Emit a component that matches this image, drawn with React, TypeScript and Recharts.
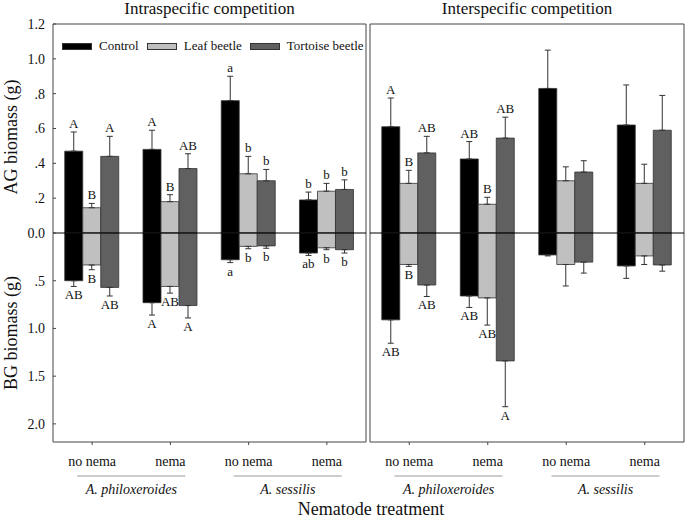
import React from 'react'
import { BarChart, Bar, XAxis, YAxis, ErrorBar, LabelList, ReferenceLine, ReferenceArea, Legend } from 'recharts'

const categories = ['no nema', 'nema', 'no nema', 'nema']
const species = ['A. philoxeroides', 'A. philoxeroides', 'A. sessilis', 'A. sessilis']
const treatments = ['Control', 'Leaf beetle', 'Tortoise beetle']
const treatmentKeys = ['ctrl', 'leaf', 'tort']
const colors = ['#000000', '#c0c0c0', '#606060']

const agTicks = [0, 0.2, 0.4, 0.6, 0.8, 1.0, 1.2]
const bgTicks = [0.5, 1.0, 1.5, 2.0]

// Intraspecific competition (rows: Control, Leaf beetle, Tortoise beetle)
const intraAG = [[0.47, 0.48, 0.76, 0.19], [0.145, 0.18, 0.34, 0.24], [0.44, 0.37, 0.3, 0.25]]
const intraAGse = [[0.11, 0.11, 0.14, 0.045], [0.025, 0.04, 0.1, 0.045], [0.115, 0.085, 0.065, 0.055]]
const intraAGsig = [['A', 'A', 'a', 'b'], ['B', 'B', 'b', 'b'], ['A', 'AB', 'b', 'b']]
const intraBG = [[0.5, 0.73, 0.28, 0.21], [0.335, 0.56, 0.14, 0.155], [0.57, 0.76, 0.135, 0.175]]
const intraBGse = [[0.06, 0.13, 0.03, 0.025], [0.05, 0.07, 0.025, 0.02], [0.09, 0.13, 0.025, 0.035]]
const intraBGsig = [['AB', 'A', 'a', 'ab'], ['B', 'AB', 'b', 'b'], ['AB', 'A', 'b', 'b']]

// Interspecific competition
const interAG = [[0.61, 0.425, 0.83, 0.62], [0.285, 0.165, 0.3, 0.285], [0.46, 0.545, 0.35, 0.59]]
const interAGse = [[0.165, 0.1, 0.22, 0.23], [0.075, 0.04, 0.08, 0.11], [0.095, 0.12, 0.065, 0.2]]
const interAGsig = [['A', 'AB', '', ''], ['B', 'B', '', ''], ['AB', 'AB', '', '']]
const interBG = [[0.91, 0.66, 0.23, 0.345], [0.33, 0.68, 0.33, 0.24], [0.545, 1.34, 0.305, 0.335]]
const interBGse = [[0.245, 0.12, 0.01, 0.13], [0.02, 0.285, 0.225, 0.09], [0.12, 0.48, 0.115, 0.065]]
const interBGsig = [['AB', 'AB', '', ''], ['B', 'AB', '', ''], ['AB', 'A', '', '']]

// BG part of the axis is drawn at a smaller scale than AG
const BG_SCALE = 0.548
const FONT = '"Liberation Serif", "Times New Roman", serif'

const fmt = (v: number) => {
  const s = v.toFixed(1)
  return v > 0 && v < 1 ? s.slice(1) : s
}
const yTicks = [...agTicks, ...bgTicks.map((v) => -v * BG_SCALE)]
const yFormat = (v: number) => (v >= 0 ? fmt(v) : fmt(-v / BG_SCALE))

function buildRows(ag: number[][], agSe: number[][], bg: number[][], bgSe: number[][]) {
  return categories.map((c, i) => {
    const row: any = { id: i, cat: c }
    treatmentKeys.forEach((k, t) => {
      row[k + 'AG'] = ag[t][i]
      row[k + 'AGerr'] = [0, agSe[t][i]]
      row[k + 'BG'] = -bg[t][i] * BG_SCALE
      row[k + 'BGerr'] = [bgSe[t][i] * BG_SCALE, 0]
    })
    return row
  })
}

const sigLabel = (sig: string[][], mean: number[][], se: number[][], t: number, below: boolean) => (props: any) => {
  const vb = props.viewBox && props.viewBox.width != null ? props.viewBox : props
  const { x, y, width, height } = vb
  const index = props.index
  const text = sig[t][index]
  if (!text) return null
  const m = below ? mean[t][index] * BG_SCALE : mean[t][index]
  const ppu = Math.abs(height) / m
  const e = (below ? se[t][index] * BG_SCALE : se[t][index]) * ppu
  const top = Math.min(y, y + height)
  const bottom = Math.max(y, y + height)
  const ty = below ? bottom + e + 13 : top - e - 4
  return (
    <text x={x + width / 2} y={ty} textAnchor="middle" fontSize={13} fontFamily={FONT} fill="#111">
      {text}
    </text>
  )
}

const renderTick = (p: any) => {
  const i = p.index
  const half = p.payload && p.payload.offset ? p.payload.offset : 39
  return (
    <g>
      <text x={p.x} y={p.y + 19} textAnchor="middle" fontSize={14} fontFamily={FONT} fill="#111">
        {categories[i]}
      </text>
      {i % 2 === 0 && (
        <g>
          <line x1={p.x + half - 54} x2={p.x + half + 54} y1={p.y + 29} y2={p.y + 29} stroke="#999" />
          <text x={p.x + half} y={p.y + 47} textAnchor="middle" fontSize={14} fontStyle="italic" fontFamily={FONT} fill="#111">
            {species[i]}
          </text>
        </g>
      )}
    </g>
  )
}

const renderLegend = (props: any) => (
  <div style={{ display: 'flex', alignItems: 'center', fontFamily: FONT, fontSize: 13, color: '#111', whiteSpace: 'nowrap' }}>
    {(props.payload || [])
      .filter((p: any) => treatments.includes(p.value))
      .map((p: any) => (
        <span key={p.value} style={{ display: 'flex', alignItems: 'center', marginRight: 8 }}>
          <span style={{ display: 'inline-block', width: 30, height: 7, background: p.color, border: '1px solid #333', boxSizing: 'border-box', marginRight: 7 }} />
          {p.value}
        </span>
      ))}
  </div>
)

interface PanelProps {
  ag: number[][]
  agSe: number[][]
  agSig: string[][]
  bg: number[][]
  bgSe: number[][]
  bgSig: string[][]
  width: number
  margin: { top: number; right: number; bottom: number; left: number }
  showY: boolean
  showLegend: boolean
}

function Panel({ ag, agSe, agSig, bg, bgSe, bgSig, width, margin, showY, showLegend }: PanelProps) {
  const rows = buildRows(ag, agSe, bg, bgSe)
  return (
    <BarChart width={width} height={520} data={rows} margin={margin} stackOffset="sign" barGap={0} barCategoryGap="15%">
      <XAxis dataKey="id" interval={0} height={30} axisLine={false} tickSize={3} tickLine={{ stroke: '#444' }} tick={renderTick} />
      <YAxis
        type="number"
        domain={[-1.2, 1.2]}
        allowDataOverflow
        ticks={yTicks}
        tickFormatter={yFormat}
        width={showY ? 45 : 0}
        axisLine={false}
        tickLine={showY ? { stroke: '#444' } : false}
        tickSize={-3}
        tickMargin={11}
        tick={showY ? { fontSize: 14, fontFamily: FONT, fill: '#111' } : false}
        interval={0}
      />
      {showLegend && (
        <Legend
          layout="horizontal"
          verticalAlign="middle"
          align="center"
          content={renderLegend}
          wrapperStyle={{ top: 38, left: 62, width: 'auto' }}
        />
      )}
      {treatmentKeys.map((k, t) => (
        <Bar
          key={k + 'AG'}
          dataKey={k + 'AG'}
          name={treatments[t]}
          stackId={k}
          fill={colors[t]}
          stroke="#333"
          strokeWidth={0.8}
          isAnimationActive={false}
        >
          <ErrorBar dataKey={k + 'AGerr'} width={3} stroke="#333" strokeWidth={1} direction="y" />
          <LabelList dataKey={k + 'AG'} content={sigLabel(agSig, ag, agSe, t, false)} />
        </Bar>
      ))}
      {treatmentKeys.map((k, t) => (
        <Bar
          key={k + 'BG'}
          dataKey={k + 'BG'}
          name={treatments[t] + ' BG'}
          legendType="none"
          stackId={k}
          fill={colors[t]}
          stroke="#333"
          strokeWidth={0.8}
          isAnimationActive={false}
        >
          <ErrorBar dataKey={k + 'BGerr'} width={3} stroke="#333" strokeWidth={1} direction="y" />
          <LabelList dataKey={k + 'BG'} content={sigLabel(bgSig, bg, bgSe, t, true)} />
        </Bar>
      ))}
      <ReferenceLine y={0} stroke="#000" strokeWidth={1} />
      <ReferenceArea y1={-1.2} y2={1.2} fill="none" stroke="#444" strokeWidth={1} ifOverflow="visible" />
    </BarChart>
  )
}

export default function App() {
  return (
    <div style={{ position: 'absolute', left: 0, top: 0, width: 685, height: 520, background: '#fff' }}>
      <div style={{ position: 'absolute', left: 0, top: 0 }}>
        <Panel
          ag={intraAG}
          agSe={intraAGse}
          agSig={intraAGsig}
          bg={intraBG}
          bgSe={intraBGse}
          bgSig={intraBGsig}
          width={370}
          margin={{ top: 24, right: 4, bottom: 48, left: 8 }}
          showY
          showLegend
        />
      </div>
      <div style={{ position: 'absolute', left: 366, top: 0 }}>
        <Panel
          ag={interAG}
          agSe={interAGse}
          agSig={interAGsig}
          bg={interBG}
          bgSe={interBGse}
          bgSig={interBGsig}
          width={319}
          margin={{ top: 24, right: 1, bottom: 48, left: 4 }}
          showY={false}
          showLegend={false}
        />
      </div>
      <svg width={685} height={520} style={{ position: 'absolute', left: 0, top: 0, pointerEvents: 'none' }}>
        <text x={209.5} y={14} textAnchor="middle" fontSize={17} fontFamily={FONT} fill="#111">
          Intraspecific competition
        </text>
        <text x={527} y={14} textAnchor="middle" fontSize={17} fontFamily={FONT} fill="#111">
          Interspecific competition
        </text>
        <text x={11} y={137} transform="rotate(-90 11 137)" textAnchor="middle" dominantBaseline="central" fontSize={18} fontFamily={FONT} fill="#111">
          AG biomass (g)
        </text>
        <text x={11} y={333} transform="rotate(-90 11 333)" textAnchor="middle" dominantBaseline="central" fontSize={18} fontFamily={FONT} fill="#111">
          BG biomass (g)
        </text>
        <text x={371} y={515} textAnchor="middle" fontSize={18} fontFamily={FONT} fill="#111">
          Nematode treatment
        </text>
      </svg>
    </div>
  )
}
